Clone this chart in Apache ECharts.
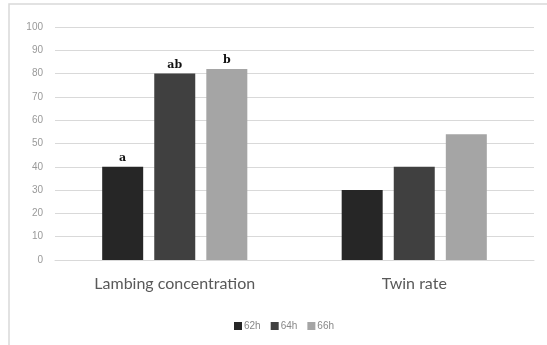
<!DOCTYPE html>
<html>
<head>
<meta charset="utf-8">
<script src="https://cdn.jsdelivr.net/npm/echarts@6/dist/echarts.min.js"></script>
<style>
  html, body { margin: 0; padding: 0; background: #fff; }
  #chart { width: 547px; height: 345px; }
</style>
</head>
<body>
<div id="chart"></div>
<script>
// Categories and series values
const categories = ['Lambing concentration', 'Twin rate'];
const seriesNames = ['62h', '64h', '66h'];
const values62h = [40, 30];
const values64h = [80, 40];
const values66h = [82, 54];
// Significance letters shown above the lambing concentration bars
const letters62h = ['a', ''];
const letters64h = ['ab', ''];
const letters66h = ['b', ''];
const yTicks = [0, 10, 20, 30, 40, 50, 60, 70, 80, 90, 100];

const colors = ['#262626', '#404040', '#a5a5a5'];
const allValues = [values62h, values64h, values66h];
const allLetters = [letters62h, letters64h, letters66h];

const chart = echarts.init(document.getElementById('chart'), null, { renderer: 'canvas' });

const series = seriesNames.map((name, i) => ({
  name: name,
  type: 'bar',
  barWidth: 41,
  barGap: '27%',
  itemStyle: { color: colors[i] },
  data: allValues[i],
  label: {
    show: true,
    position: 'top',
    distance: 3,
    fontFamily: 'DejaVu Serif',
    fontWeight: 'bold',
    fontSize: 11,
    color: '#111',
    formatter: p => allLetters[i][p.dataIndex]
  }
}));

chart.setOption({
  animation: false,
  backgroundColor: '#fff',
  graphic: [{
    type: 'rect',
    shape: { x: 9, y: 4, width: 560, height: 360 },
    style: { fill: 'none', stroke: '#d9d9d9', lineWidth: 1.5 },
    silent: true
  }],
  grid: { left: 55, right: 13, top: 27, bottom: 85 },
  legend: {
    data: seriesNames,
    left: 229,
    top: 316,
    icon: 'rect',
    itemWidth: 8,
    itemHeight: 8,
    itemGap: 10,
    textStyle: { fontSize: 10, color: '#888', fontFamily: 'Liberation Sans', padding: [0, 0, 0, -3] }
  },
  xAxis: {
    type: 'category',
    data: categories,
    axisLine: { show: true, lineStyle: { color: '#d9d9d9', width: 1 } },
    axisTick: { show: false },
    axisLabel: { fontSize: 16, color: '#595959', margin: 16, fontFamily: 'Lato' }
  },
  yAxis: {
    type: 'value',
    min: yTicks[0],
    max: yTicks[yTicks.length - 1],
    interval: 10,
    axisLine: { show: false },
    axisTick: { show: false },
    splitLine: { lineStyle: { color: '#d9d9d9', width: 1 } },
    axisLabel: { fontSize: 10, color: '#999', margin: 12, fontFamily: 'Liberation Sans' }
  },
  series: series
});
</script>
</body>
</html>
